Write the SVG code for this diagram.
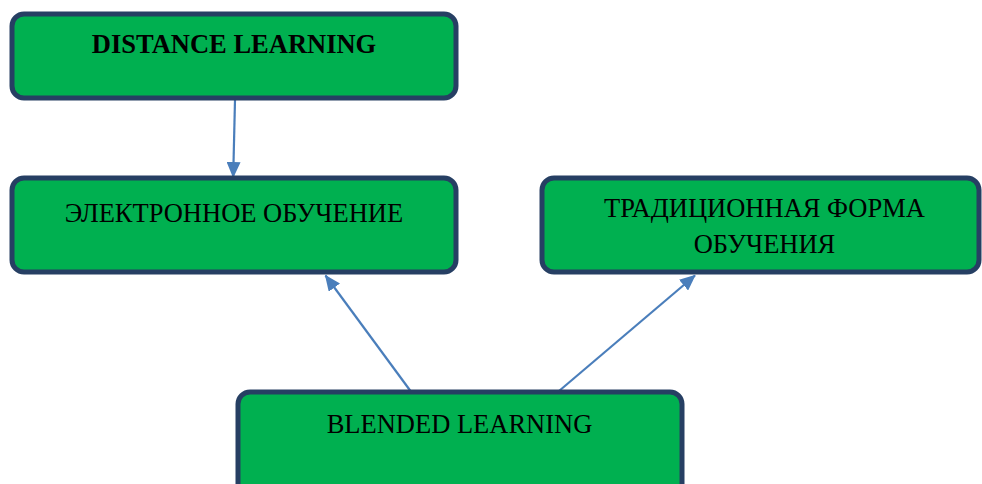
<svg xmlns="http://www.w3.org/2000/svg" width="982" height="484" viewBox="0 0 982 484">
<style>
.box{fill:#00B050;stroke:#263F63;stroke-width:5}
.t{font-family:"Liberation Serif","Times New Roman",serif;font-size:26.5px;fill:#000;text-anchor:middle}
.b{font-weight:bold}
.c{stroke:#4A7EBB;stroke-width:2.2;fill:none}
</style>
<defs>
<marker id="ah" markerUnits="userSpaceOnUse" markerWidth="16" markerHeight="14" refX="15" refY="7" orient="auto">
<path d="M0,0 L16,7 L0,14 Z" fill="#4A7EBB"/>
</marker>
</defs>
<rect width="982" height="484" fill="#fff"/>
<g id="connectors">
<line class="c" x1="235" y1="100" x2="233.2" y2="177" marker-end="url(#ah)"/>
<line class="c" x1="410.5" y1="391" x2="325.5" y2="275.5" marker-end="url(#ah)"/>
<line class="c" x1="559" y1="391" x2="695" y2="275.5" marker-end="url(#ah)"/>
</g>
<g id="distance">
<rect class="box" x="12" y="14" width="444" height="84" rx="12"/>
<text class="t b" x="234" y="53">DISTANCE LEARNING</text>
</g>
<g id="elearning">
<rect class="box" x="12" y="178" width="444" height="94" rx="12"/>
<text class="t" x="234" y="222">ЭЛЕКТРОННОЕ ОБУЧЕНИЕ</text>
</g>
<g id="traditional">
<rect class="box" x="542" y="178" width="437" height="94" rx="12"/>
<text class="t" x="764.5" y="217">ТРАДИЦИОННАЯ ФОРМА</text>
<text class="t" x="764.5" y="253">ОБУЧЕНИЯ</text>
</g>
<g id="blended">
<rect class="box" x="238" y="392" width="444" height="110" rx="12"/>
<text class="t" x="459.5" y="433">BLENDED LEARNING</text>
</g>
</svg>
